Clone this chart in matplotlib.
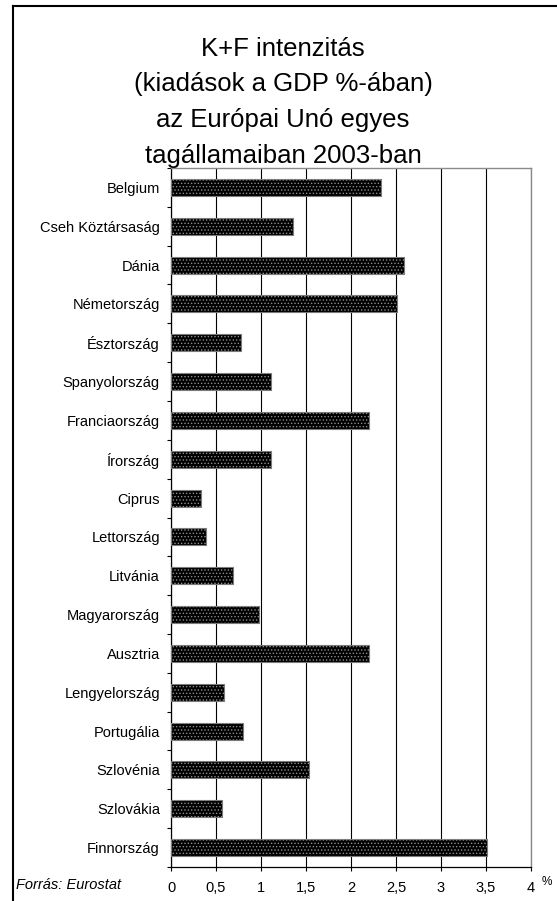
import matplotlib
matplotlib.use("Agg")
import matplotlib.pyplot as plt
from matplotlib.lines import Line2D
import numpy as np

plt.rcParams['font.family'] = ['Liberation Sans', 'DejaVu Sans']
plt.rcParams['hatch.linewidth'] = 0.6

countries = [
    "Belgium", "Cseh Köztársaság", "Dánia", "Németország", "Észtország",
    "Spanyolország", "Franciaország", "Írország", "Ciprus", "Lettország",
    "Litvánia", "Magyarország", "Ausztria", "Lengyelország", "Portugália",
    "Szlovénia", "Szlovákia", "Finnország"
]
values = [
    2.33, 1.36, 2.59, 2.51, 0.78,
    1.11, 2.20, 1.11, 0.33, 0.39,
    0.69, 0.98, 2.20, 0.59, 0.80,
    1.53, 0.57, 3.51
]
x_ticks = [0, 0.5, 1, 1.5, 2, 2.5, 3, 3.5, 4]
x_labels = ["0", "0,5", "1", "1,5", "2", "2,5", "3", "3,5", "4"]
title_lines = [
    "K+F intenzitás",
    "(kiadások a GDP %-ában)",
    "az Európai Unó egyes",
    "tagállamaiban 2003-ban",
]

W, H = 557, 901
fig = plt.figure(figsize=(W / 100, H / 100), dpi=100)
ax = fig.add_axes([171 / W, 1 - 867 / H, (531 - 171) / W, (867 - 168) / H])

y = np.arange(len(countries))
# black bars with a grey dot pattern on top
ax.barh(y, values, height=0.44, color="black", edgecolor="#7a7a7a",
        linewidth=0.8, zorder=3)
ax.barh(y, values, height=0.44, facecolor="none", edgecolor="#8c8c8c",
        hatch=".....", linewidth=0, zorder=4)

ax.set_xlim(0, 4)
ax.set_ylim(len(countries) - 0.5, -0.5)

ax.set_xticks(x_ticks)
ax.set_xticklabels(x_labels, fontsize=10.5)
ax.tick_params(axis="x", direction="out", length=3, width=0.8, pad=7)
ax.xaxis.grid(True, color="black", linewidth=0.8, zorder=1)

ax.set_yticks(y)
ax.set_yticklabels(countries, fontsize=10.5)
ax.tick_params(axis="y", which="major", length=0, pad=8)
ax.set_yticks(np.arange(-0.5, len(countries)), minor=True)
ax.tick_params(axis="y", which="minor", direction="out", length=3, width=0.8)

for s in ["left", "bottom"]:
    ax.spines[s].set_color("black")
    ax.spines[s].set_linewidth(0.9)
for s in ["top", "right"]:
    ax.spines[s].set_color("#8a8a8a")
    ax.spines[s].set_linewidth(1.0)
ax.set_axisbelow(True)

for i, line in enumerate(title_lines):
    fig.text(283 / W, 1 - (56 + 35.5 * i) / H, line, ha="center",
             va="baseline", fontsize=18.5)

fig.text(547 / W, 1 - 882 / H, "%", ha="center", va="center", fontsize=8.5)
fig.text(16 / W, 1 - 885 / H, "Forrás: Eurostat", ha="left", va="center",
         fontsize=10.5, style="italic")

# outer frame (only top and left edges fall inside the picture)
fig.add_artist(Line2D([13 / W, 1.0], [1 - 6 / H, 1 - 6 / H],
                      color="black", linewidth=1.5, transform=fig.transFigure))
fig.add_artist(Line2D([13 / W, 13 / W], [1 - 6 / H, 0.0],
                      color="black", linewidth=1.5, transform=fig.transFigure))

fig.savefig("out.png", dpi=100)
